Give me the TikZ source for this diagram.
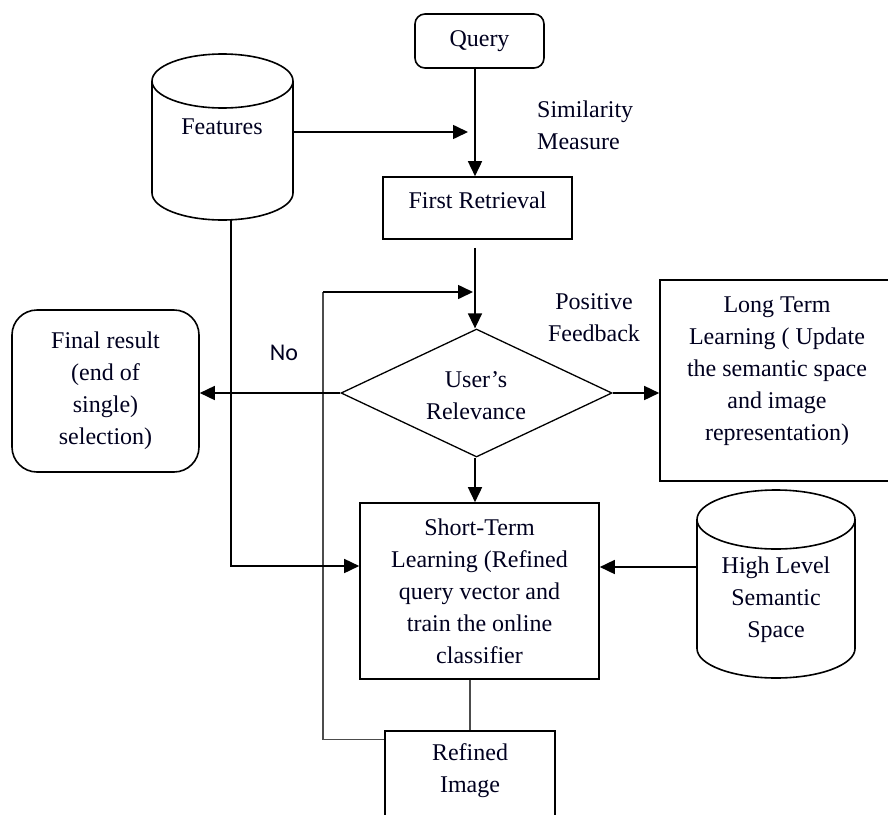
\documentclass[tikz,border=0pt]{standalone}
\usepackage{fontspec}
\setmainfont{Liberation Serif}
\newfontfamily\nofont{Carlito}
\usetikzlibrary{arrows.meta,shapes.geometric}
\begin{document}
\begin{tikzpicture}[x=1pt,y=-1pt,
  every node/.style={font=\fontsize{24}{32}\selectfont, text=black!88!blue},
  box/.style={draw, line width=1.6pt, inner sep=0pt},
  arr/.style={line width=1.6pt, -{Triangle[length=15pt,width=14pt]}},
  fbline/.style={line width=1.3pt, draw=black!70},
  lbl/.style={align=center, inner sep=0pt},
  cyl/.style={line width=1.6pt}]
\useasboundingbox (0,0) rectangle (888,814);
\fill[white] (0,0) rectangle (888,814);
\clip (0,0) rectangle (888,814);

% helper coordinates
\coordinate (xl) at (475,0);
\coordinate (fy) at (0,132);
\coordinate (fbx) at (323,0);
\coordinate (fby) at (0,292);
\coordinate (fx) at (231,0);
\coordinate (sty) at (0,566);
\coordinate (hy) at (0,567);

% Query
\node[box, rounded corners=10pt, minimum width=129pt, minimum height=54pt] (query) at (479.5,41) {Query};

% Features cylinder
\draw[cyl] (152,81) -- (152,193) arc[start angle=180, end angle=360, x radius=70.5pt, y radius=27pt] -- (293,81);
\draw[cyl] (222.5,81) ellipse [x radius=70.5pt, y radius=27pt];
\node[inner sep=0pt, minimum width=141pt, minimum height=166pt] (features) at (222.5,137) {};
\node[lbl] (featt) at (222,127) {Features};

% Similarity measure
\node[lbl, align=left, anchor=west] (sim) at (537,125) {Similarity\\Measure};

% First retrieval
\node[box, minimum width=189pt, minimum height=62pt] (fr) at (477.5,208) {};
\node[lbl] (frt) at (477.5,200) {First Retrieval};

% Diamond
\node[draw, diamond, line width=1.3pt, minimum width=271pt, minimum height=128pt, inner sep=0pt] (ur) at (476.5,393) {};
\node[lbl] (urt) at (476,396) {User’s\\Relevance};

% Final result
\node[box, rounded corners=25pt, minimum width=187pt, minimum height=162pt, align=center] (fin) at (105.5,391) {Final result\\(end of\\single)\\selection)};

% No label
\node[inner sep=0pt, font=\nofont\fontsize{24}{28}\selectfont] (no) at (284,353) {No};

% Positive feedback
\node[lbl] (pf) at (594,318) {Positive\\Feedback};

% Long term learning
\node[box, minimum width=234pt, minimum height=201pt] (ltl) at (777,380.5) {};
\node[lbl] (ltlt) at (777,371) {Long Term\\Learning ( Update\\the semantic space\\and image\\representation)};

% Short term learning
\node[box, align=center, minimum width=239pt, minimum height=176pt] (st) at (479.5,591) {Short-Term\\Learning (Refined\\query vector and\\train the online\\classifier};

% High level semantic space cylinder
\draw[cyl] (697,519.5) -- (697,648.5) arc[start angle=180, end angle=360, x radius=79pt, y radius=29.5pt] -- (855,519.5);
\draw[cyl] (776,519.5) ellipse [x radius=79pt, y radius=29.5pt];
\node[inner sep=0pt, minimum width=158pt, minimum height=188pt] (hls) at (776,584) {};
\node[lbl] (hlst) at (776,600) {High Level\\Semantic\\Space};

% Refined image
\node[box, minimum width=170pt, minimum height=110pt] (ri) at (470,786) {};
\node[lbl] (rit) at (470,771) {Refined\\Image};

% Connectors
\draw[arr] (query.south -| xl) -- (fr.north -| xl);
\draw[arr, shorten >=7pt] (features.east |- fy) -- (xl |- fy);
\draw[arr, shorten <=8pt] (fr.south -| xl) -- (xl |- ur.north);
\draw[fbline] ([yshift=-9pt]ri.north west) -| (fbx |- fby);
\draw[arr, shorten >=2pt] (fbx |- fby) -- (xl |- fby);
\draw[arr] (ur.west) -- (ur.west -| fin.east);
\draw[arr] (ur.east) -- (ur.east -| ltl.west);
\draw[arr] (xl |- ur.south) -- (xl |- st.north);
\draw[arr] (fx |- features.south) |- (st.west |- sty);
\draw[arr] (hls.west |- hy) -- (st.east |- hy);
\draw[fbline] (st.south -| ri.north) -- (ri.north);
\end{tikzpicture}
\end{document}
